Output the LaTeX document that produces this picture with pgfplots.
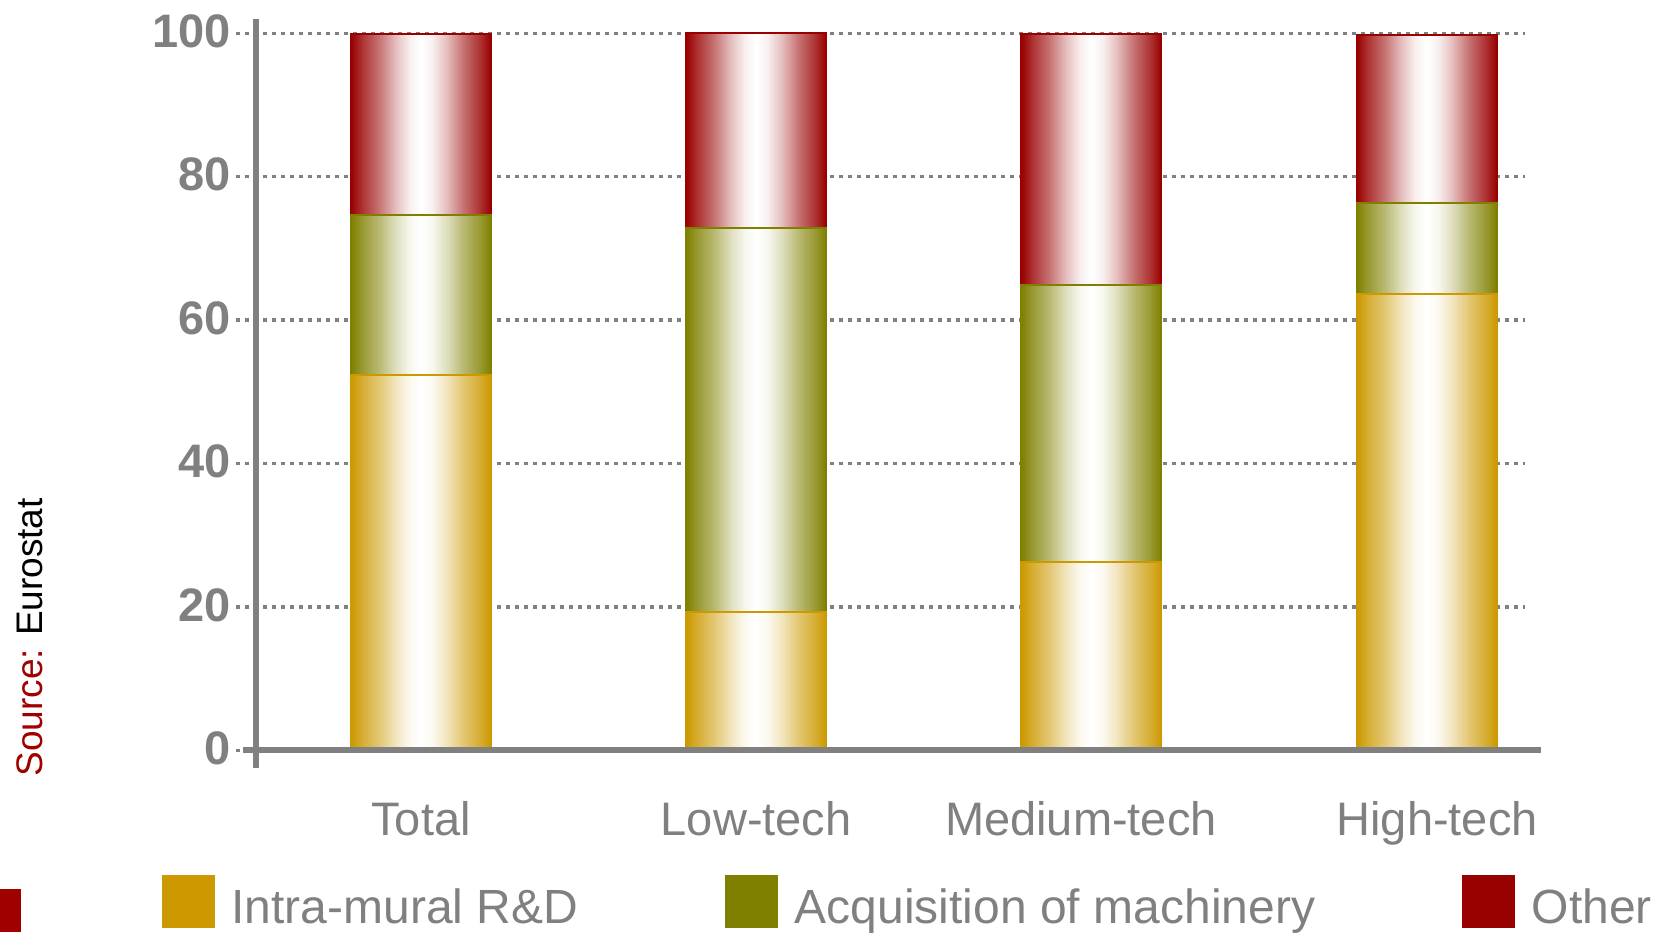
\documentclass[border=0pt]{standalone}
\usepackage{pgfplots}
\usepackage{pgfplotstable}
\pgfplotsset{compat=1.18}
\usepackage{fontspec}
\setmainfont{Liberation Sans}

\definecolor{cintra}{HTML}{CC9900}
\definecolor{cmach}{HTML}{808000}
\definecolor{cother}{HTML}{990000}
\definecolor{cgray}{HTML}{808080}
\definecolor{csource}{HTML}{A00000}

% cylinder-like bar fill: full colour at the edges, white in the middle
% (TikZ fits the central 25bp--75bp band of a shading to the path)
\newcommand\barshade[2]{%
  \pgfdeclarehorizontalshading{#1}{100bp}{%
    color(0bp)=(#2); color(25bp)=(#2); color(29bp)=(#2!80!white);
    color(35bp)=(#2!55!white); color(41bp)=(#2!25!white); color(46bp)=(#2!6!white);
    color(50bp)=(white);
    color(54bp)=(#2!6!white); color(59bp)=(#2!25!white); color(65bp)=(#2!55!white);
    color(71bp)=(#2!80!white); color(75bp)=(#2); color(100bp)=(#2)}}
\barshade{intrashade}{cintra}
\barshade{machshade}{cmach}
\barshade{othershade}{cother}

% shares of innovation expenditure, per sector
\pgfplotstableread{
x  intra  mach  other
0  52.3   22.4  25.2
1  19.3   53.5  27.2
2  26.3   38.6  35.0
3  63.6   12.8  23.4
}\shares

\newcommand\legsq[1]{\fill[#1] (0pt,-3.4pt) rectangle (51.7pt,48.3pt);}

\pgfplotsset{
  segment/.style 2 args={ybar, bar shift=0pt, bar width=140pt,
    shading=#1, draw=#2, line width=2pt, forget plot},
}

\begin{document}
\begin{tikzpicture}
\begin{axis}[
  at={(235.97pt,164.28pt)}, anchor=south west,
  scale only axis, width=1289.2pt, height=748.4pt,
  xmin=-0.552, xmax=3.294, ymin=-2.43, ymax=101.95,
  enlargelimits=false, clip=false,
  ybar, bar width=140pt,
  axis line style={draw=none},
  major tick length=0pt,
  xtick={0,1,2,3},
  xticklabels={Total, Low-tech, \hspace*{-21pt}Medium-tech, High-tech\hspace*{-21pt}},
  ytick={0,20,40,60,80,100},
  ymajorgrids,
  major grid style={cgray, line width=3.5pt, dash pattern=on 4pt off 5pt},
  /pgf/number format/assume math mode=true,
  xticklabel style={font=\fontsize{47}{56}\selectfont, text=cgray,
    anchor=base, inner sep=0pt, yshift=-67.3pt},
  yticklabel style={font=\fontsize{47}{56}\selectfont\bfseries, text=cgray,
    anchor=east, inner sep=0pt, xshift=-5pt, yshift=2pt},
  legend style={at={(-0.0574,-0.1434)}, anchor=north west,
    draw=none, fill=none, inner sep=0pt, outer sep=0pt,
    font=\fontsize{48}{58}\selectfont, text=cgray,
    cells={anchor=base west}, nodes={inner sep=0pt},
    column sep=0pt,
    /tikz/every odd column/.append style={column sep=17.5pt},
    /tikz/every even column/.append style={column sep=147pt}},
  legend columns=3,
]
% one path per bar segment, so that each segment gets its own shading;
% the stack is drawn top-down, each lower segment covering the one above
\pgfplotsinvokeforeach{0,1,2,3}{
  \addplot[segment={othershade}{cother}, x filter/.expression={abs(x-#1)<0.1 ? x : nan}]
    table[x=x, y expr=\thisrow{intra}+\thisrow{mach}+\thisrow{other}] {\shares};
  \addplot[segment={machshade}{cmach}, x filter/.expression={abs(x-#1)<0.1 ? x : nan}]
    table[x=x, y expr=\thisrow{intra}+\thisrow{mach}] {\shares};
  \addplot[segment={intrashade}{cintra}, x filter/.expression={abs(x-#1)<0.1 ? x : nan}]
    table[x=x, y=intra] {\shares};
}

\addlegendimage{legend image code/.code={\legsq{cintra}}}
\addlegendentry{Intra-mural R\&D}
\addlegendimage{legend image code/.code={\legsq{cmach}}}
\addlegendentry{Acquisition of machinery}
\addlegendimage{legend image code/.code={\legsq{cother}}}
\addlegendentry{Other}

% axis lines
\draw[cgray, line width=6pt] (axis cs:-0.4922,-2.43) -- (axis cs:-0.4922,101.95);
\draw[cgray, line width=6pt] (axis cs:-0.532,0) -- (axis cs:3.341,0);
\end{axis}

% source note and corner mark
\node[rotate=90, anchor=base west, inner sep=0pt, font=\fontsize{37}{44}\selectfont]
  at (42.5pt,155.3pt) {\textcolor{csource}{Source:}\hspace{13pt}Eurostat};
\fill[csource] (-10pt,0pt) rectangle (21pt,43pt);

\pgfresetboundingbox
\path[use as bounding box] (0pt,0pt) rectangle (1663pt,932pt);
\end{tikzpicture}
\end{document}
